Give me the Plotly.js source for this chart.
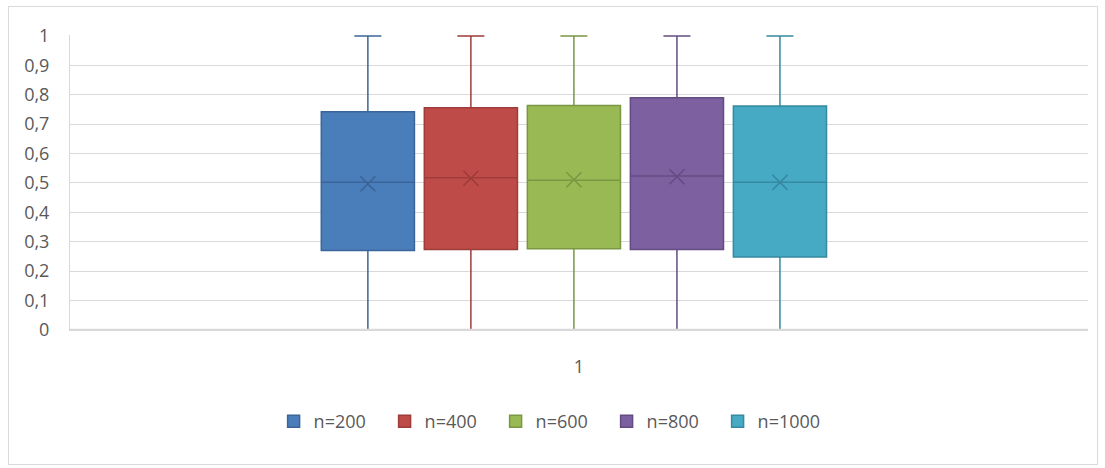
<!DOCTYPE html>
<html>
<head>
<meta charset="utf-8">
<script src="https://cdn.plot.ly/plotly-3.0.1.min.js"></script>
<style>
  html, body { margin: 0; padding: 0; background: #ffffff; }
  #frame { position: absolute; left: 8px; top: 6px; width: 1088px; height: 457px; border: 1px solid #d9d9d9; }
  #chart { position: absolute; left: 0; top: 0; width: 1105px; height: 468px; }
</style>
</head>
<body>
<div id="frame"></div>
<div id="chart"></div>
<script>
// ---- data ----
const categories = ['1'];
const seriesNames = ['n=200', 'n=400', 'n=600', 'n=800', 'n=1000'];
const minVals    = [0, 0, 0, 0, 0];
const q1Vals     = [0.270, 0.274, 0.276, 0.274, 0.248];
const medianVals = [0.502, 0.518, 0.509, 0.524, 0.502];
const q3Vals     = [0.742, 0.756, 0.763, 0.790, 0.762];
const maxVals    = [1, 1, 1, 1, 1];
const meanVals   = [0.497, 0.516, 0.511, 0.521, 0.502];
const yTickVals  = [0, 0.1, 0.2, 0.3, 0.4, 0.5, 0.6, 0.7, 0.8, 0.9, 1];

// ---- styling ----
const fills = ['#4a7ebb', '#be4b48', '#98b954', '#7d60a0', '#46aac5'];
const edges = ['#3b6598', '#9d3c39', '#7a9743', '#644c82', '#3689a0'];
const groupCentre = -0.005; // centre of the group of boxes (data units)
const slot = 0.1012;        // spacing between box centres (data units)
const boxW = 0.0915;        // box width (data units)

const traces = [];
seriesNames.forEach((name, i) => {
  const pos = groupCentre + (i - (seriesNames.length - 1) / 2) * slot;
  traces.push({
    type: 'box',
    name: name,
    x: [pos],
    q1: [q1Vals[i]],
    median: [medianVals[i]],
    q3: [q3Vals[i]],
    lowerfence: [minVals[i]],
    upperfence: [maxVals[i]],
    width: boxW,
    whiskerwidth: 0.29,
    fillcolor: fills[i],
    line: { color: edges[i], width: 1.5 },
    marker: { color: fills[i] },
    hoverinfo: 'skip',
    showlegend: true
  });
});
seriesNames.forEach((name, i) => {
  const pos = groupCentre + (i - (seriesNames.length - 1) / 2) * slot;
  traces.push({
    type: 'scatter',
    mode: 'markers',
    x: [pos],
    y: [meanVals[i]],
    marker: { symbol: 'x-thin-open', size: 15, color: edges[i], line: { color: edges[i], width: 1.6 } },
    showlegend: false,
    hoverinfo: 'skip'
  });
});

const layout = {
  width: 1105,
  height: 468,
  margin: { l: 70, r: 17, t: 35, b: 138 },
  paper_bgcolor: 'rgba(0,0,0,0)',
  plot_bgcolor: '#ffffff',
  separators: ', ',
  font: { family: 'Open Sans, sans-serif', size: 18, color: '#595959' },
  showlegend: true,
  boxmode: 'overlay',
  xaxis: {
    range: [-0.5, 0.5],
    tickvals: [0],
    ticktext: categories,
    showgrid: false,
    zeroline: false,
    showline: true,
    linecolor: '#d9d9d9',
    linewidth: 1,
    ticks: '',
    ticklabelstandoff: 20,
    fixedrange: true
  },
  yaxis: {
    range: [0, 1.003],
    tickvals: yTickVals,
    ticktext: yTickVals.map(v => String(v).replace('.', ',')),
    showgrid: true,
    gridcolor: '#d9d9d9',
    gridwidth: 1,
    zeroline: false,
    showline: true,
    linecolor: '#d9d9d9',
    ticks: '',
    ticklabelstandoff: 16,
    fixedrange: true
  },
  // baseline drawn over the bottom whisker caps, as in the reference
  shapes: [{
    type: 'line', layer: 'above',
    xref: 'paper', x0: 0, x1: 1,
    yref: 'y', y0: 0, y1: 0,
    line: { color: '#d9d9d9', width: 2.5 }
  }],
  legend: {
    orientation: 'h',
    x: 0.2,
    xanchor: 'left',
    y: -0.31,
    yanchor: 'middle',
    font: { size: 18, color: '#595959' },
    entrywidth: 66,
    entrywidthmode: 'pixels'
  }
};

Plotly.newPlot('chart', traces, layout, { displayModeBar: false, staticPlot: true });
</script>
</body>
</html>
